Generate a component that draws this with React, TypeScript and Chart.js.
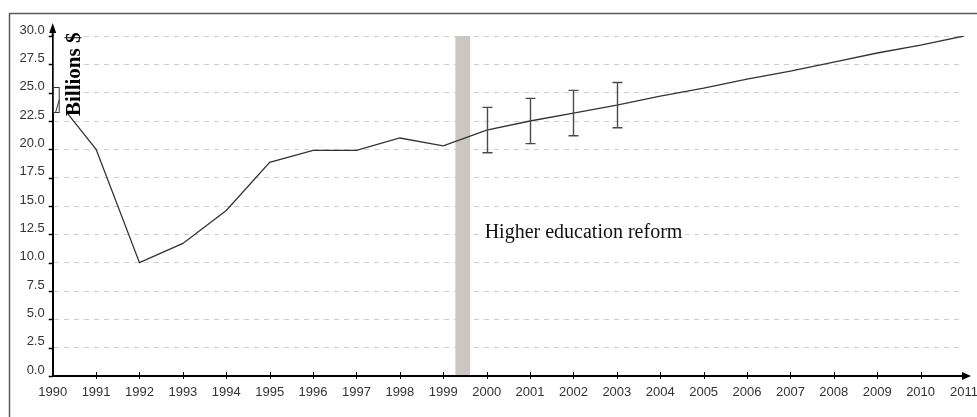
import { useEffect, useRef } from 'react';
import { Chart, registerables } from 'chart.js';

Chart.register(...registerables);

const years = [1990, 1991, 1992, 1993, 1994, 1995, 1996, 1997, 1998, 1999, 2000, 2001, 2002, 2003, 2004, 2005, 2006, 2007, 2008, 2009, 2010, 2011];
const values = [24.8, 20.0, 10.0, 11.7, 14.6, 18.85, 19.9, 19.9, 21.0, 20.3, 21.7, 22.5, 23.2, 23.9, 24.7, 25.4, 26.2, 26.9, 27.7, 28.5, 29.2, 30.0];

const errorYears = [2000, 2001, 2002, 2003];
const errorLow = [19.7, 20.5, 21.2, 21.9];
const errorHigh = [23.7, 24.5, 25.2, 25.9];

const bandStart = 1999.28;
const bandEnd = 1999.62;

const annotationText = 'Higher education reform';
const annotationYear = 2000;
const annotationValue = 12.5;

const yAxisTitle = 'Billions $';
const yMin = 0;
const yMax = 30;
const yStep = 2.5;
const xMin = 1990;
const xMax = 2011;

const W = 977;
const H = 417;

const decorPlugin = {
  id: 'decor',
  beforeDraw(chart: any) {
    const { ctx, scales } = chart;
    const R = scales.x.getPixelForValue(xMax);
    ctx.save();
    ctx.beginPath();
    ctx.rect(0, 0, R + 1, H);
    ctx.clip();
  },
  beforeDatasetsDraw(chart: any) {
    const { ctx, scales } = chart;
    ctx.restore();
    const x = scales.x;
    const y = scales.y;
    ctx.save();
    ctx.fillStyle = '#cac6c2';
    const x1 = x.getPixelForValue(bandStart);
    const x2 = x.getPixelForValue(bandEnd);
    const yt = y.getPixelForValue(yMax);
    const yb = y.getPixelForValue(yMin);
    ctx.fillRect(x1, yt, x2 - x1, yb - yt - 1);
    ctx.restore();
  },
  afterDatasetsDraw(chart: any) {
    const { ctx, chartArea, scales } = chart;
    const x = scales.x;
    const y = scales.y;
    const L = chartArea.left;
    const B = chartArea.bottom;
    const T = chartArea.top;
    const R = x.getPixelForValue(xMax);
    ctx.save();

    // error bars
    ctx.strokeStyle = '#4a4a4a';
    ctx.lineWidth = 1.4;
    errorYears.forEach((yr, i) => {
      const px = Math.round(x.getPixelForValue(yr)) + 0.5;
      const pLo = y.getPixelForValue(errorLow[i]);
      const pHi = y.getPixelForValue(errorHigh[i]);
      ctx.beginPath();
      ctx.moveTo(px, pLo);
      ctx.lineTo(px, pHi);
      ctx.moveTo(px - 5, pLo);
      ctx.lineTo(px + 5, pLo);
      ctx.moveTo(px - 5, pHi);
      ctx.lineTo(px + 5, pHi);
      ctx.stroke();
    });

    // annotation with white background
    ctx.font = '20px "Liberation Serif", "Times New Roman", serif';
    const ax = x.getPixelForValue(annotationYear) - 2;
    const ay = y.getPixelForValue(annotationValue);
    const tw = ctx.measureText(annotationText).width;
    ctx.fillStyle = '#ffffff';
    ctx.fillRect(ax - 3, ay - 12, tw + 6, 20);
    ctx.fillStyle = '#111111';
    ctx.textAlign = 'left';
    ctx.textBaseline = 'alphabetic';
    ctx.fillText(annotationText, ax, ay + 4);

    // y-axis title box
    ctx.fillStyle = '#ffffff';
    ctx.fillRect(L + 1, T - 11, 29, 88);
    ctx.save();
    ctx.translate(L + 27.5, T + 80);
    ctx.rotate(-Math.PI / 2);
    ctx.font = 'bold 21px "Liberation Serif", "Times New Roman", serif';
    ctx.fillStyle = '#000000';
    ctx.textAlign = 'left';
    ctx.textBaseline = 'alphabetic';
    ctx.fillText(yAxisTitle, 0, 0);
    ctx.restore();
    ctx.strokeStyle = '#333333';
    ctx.lineWidth = 1;
    ctx.strokeRect(L + 0.5, T + 51.5, 6, 25);
    ctx.beginPath();
    ctx.moveTo(L + 6.5, T + 64);
    ctx.lineTo(L + 3, T + 76);
    ctx.stroke();

    // y axis extension + arrow
    ctx.strokeStyle = '#000000';
    ctx.fillStyle = '#000000';
    ctx.lineWidth = 2;
    ctx.beginPath();
    ctx.moveTo(L, T);
    ctx.lineTo(L, T - 8);
    ctx.stroke();
    ctx.beginPath();
    ctx.moveTo(L, T - 13);
    ctx.lineTo(L - 3.5, T - 3);
    ctx.lineTo(L + 3.5, T - 3);
    ctx.closePath();
    ctx.fill();

    // x axis arrow
    ctx.beginPath();
    ctx.moveTo(R + 7, B);
    ctx.lineTo(R - 2, B - 4);
    ctx.lineTo(R - 2, B + 4);
    ctx.closePath();
    ctx.fill();

    // y tick marks
    ctx.lineWidth = 1.5;
    y.ticks.forEach((t: any) => {
      const py = Math.round(y.getPixelForValue(t.value)) + 0.5;
      ctx.beginPath();
      ctx.moveTo(L - 4, py);
      ctx.lineTo(L, py);
      ctx.stroke();
    });
    // x tick marks
    ctx.lineWidth = 1;
    x.ticks.forEach((t: any) => {
      if (t.value === xMin || t.value === xMax) return;
      const px = Math.round(x.getPixelForValue(t.value)) + 0.5;
      ctx.beginPath();
      ctx.moveTo(px, B - 4);
      ctx.lineTo(px, B + 3);
      ctx.stroke();
    });

    // outer frame
    ctx.strokeStyle = '#5a5a5a';
    ctx.lineWidth = 1.5;
    ctx.beginPath();
    ctx.moveTo(9.5, H);
    ctx.lineTo(9.5, 13.5);
    ctx.lineTo(W, 13.5);
    ctx.stroke();

    ctx.restore();
  },
};

export default function App() {
  const ref = useRef<HTMLCanvasElement>(null);
  useEffect(() => {
    document.body.style.margin = '0';
    const canvas = ref.current;
    if (!canvas) return;
    const chart = new Chart(canvas, {
      type: 'line',
      data: {
        datasets: [
          {
            data: years.map((yr, i) => ({ x: yr, y: values[i] })),
            borderColor: '#333333',
            borderWidth: 1.3,
            pointRadius: 0,
            tension: 0,
            fill: false,
          },
        ],
      },
      options: {
        responsive: false,
        animation: false,
        devicePixelRatio: 1,
        layout: { padding: { top: 36, right: 13, left: 0, bottom: 0 } },
        plugins: {
          legend: { display: false },
          tooltip: { enabled: false },
        },
        scales: {
          x: {
            type: 'linear',
            min: xMin,
            max: xMax,
            afterFit: (s: any) => {
              s.height = 41;
              s.paddingLeft = 0;
              s.paddingRight = 0;
            },
            ticks: {
              z: 1,
              stepSize: 1,
              padding: 9,
              color: '#333333',
              font: { family: '"Liberation Sans", Arial, sans-serif', size: 13 },
              callback: (v: any) => String(v),
              maxRotation: 0,
              autoSkip: false,
            },
            grid: { display: false, drawTicks: false },
            border: { display: true, color: '#000000', width: 2 },
          },
          y: {
            type: 'linear',
            min: yMin,
            max: yMax,
            afterFit: (s: any) => {
              s.width = 52.7;
            },
            ticks: {
              z: 1,
              stepSize: yStep,
              padding: 8,
              labelOffset: -6,
              color: '#333333',
              font: { family: '"Liberation Sans", Arial, sans-serif', size: 13 },
              callback: (v: any) => Number(v).toFixed(1),
            },
            grid: {
              color: '#d3cbcb',
              lineWidth: 1,
              drawTicks: false,
            },
            border: { display: true, color: '#000000', width: 2, dash: [5, 5] },
          },
        },
      },
      plugins: [decorPlugin],
    });
    return () => chart.destroy();
  }, []);
  return (
    <div style={{ width: W, height: H }}>
      <canvas ref={ref} width={W} height={H} style={{ display: 'block' }} />
    </div>
  );
}
